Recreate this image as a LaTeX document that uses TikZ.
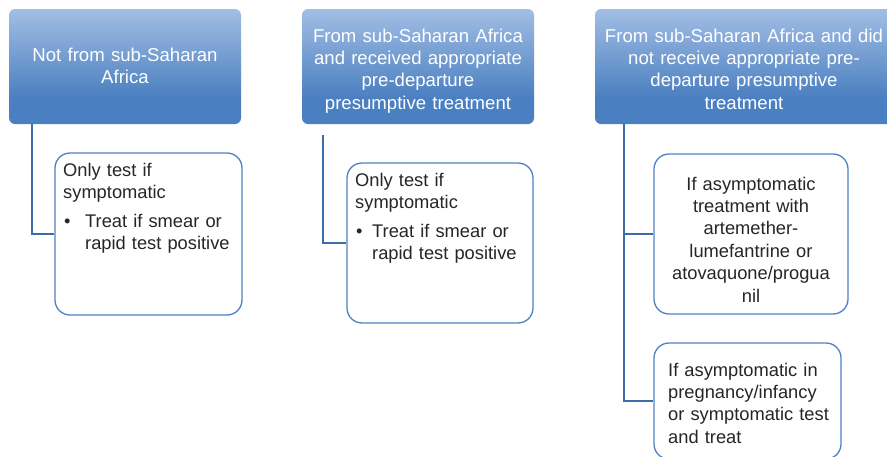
\documentclass[tikz,border=0pt]{standalone}
\usepackage{fontspec}
\setmainfont{Liberation Sans}
\definecolor{hdrTop}{HTML}{A2BEE4}
\definecolor{hdrBot}{HTML}{4A7FC1}
\definecolor{leafBorder}{HTML}{4F82C2}
\definecolor{connCol}{HTML}{3D6CAB}
\definecolor{txtDark}{HTML}{262626}
\pgfdeclareverticalshading{hdrshade}{100bp}{color(0bp)=(hdrBot); color(36bp)=(hdrBot); color(75bp)=(hdrTop); color(100bp)=(hdrTop)}
\begin{document}
\begin{tikzpicture}[x=1pt,y=-1pt,
  hdrbox/.style={shade, shading=hdrshade, draw=none, rounded corners=6pt, inner sep=0pt, minimum height=115pt},
  hdrtext/.style={text=white, font=\fontsize{18.6}{22.4}\selectfont, align=center, inner sep=0pt, anchor=base, text width=290pt},
  leafbox/.style={draw=leafBorder, line width=1.3pt, rounded corners=15pt, fill=white, inner sep=0pt},
  leaftext/.style={text=txtDark, font=\fontsize{18.3}{22.4}\selectfont, align=left, inner sep=0pt, anchor=base west, text width=185pt},
  leafctext/.style={text=txtDark, font=\fontsize{18.3}{22.4}\selectfont, align=center, inner sep=0pt, anchor=base, text width=190pt},
  conn/.style={draw=connCol, line width=1.4pt}]
\useasboundingbox (0,0) rectangle (887,456);
\clip (0,0) rectangle (887,456);

% header boxes
\node[hdrbox, minimum width=232pt] (h1) at (125,66.5) {};
\node[hdrbox, minimum width=232pt] (h2) at (418,66.5) {};
\node[hdrbox, minimum width=298pt] (h3) at (744,66.5) {};

% leaf boxes
\node[leafbox, minimum width=187pt, minimum height=162pt] (a) at (148.5,234) {};
\node[leafbox, minimum width=186pt, minimum height=160pt] (b) at (440,243) {};
\node[leafbox, minimum width=194pt, minimum height=160pt] (c) at (751,234) {};
\node[leafbox, minimum width=187pt, minimum height=116pt] (d) at (747.5,401) {};

% connectors
\draw[conn] ([xshift=23pt]h1.south west) |- (a.west);
\draw[conn] ([xshift=21pt,yshift=-11pt]h2.south west) |- (b.west);
\draw[conn] ([xshift=29pt]h3.south west) |- (c.west);
\draw[conn] ([xshift=29pt]h3.south west) |- (d.west);

% header texts
\node[hdrtext] (h1t) at (125,61) {Not from sub-Saharan\\Africa};
\node[hdrtext] (h2t) at (418,42) {From sub-Saharan Africa\\and received appropriate\\pre-departure\\presumptive treatment};
\node[hdrtext] (h3t) at (744,42) {From sub-Saharan Africa and did\\not receive appropriate pre-\\departure presumptive\\treatment};

% leaf texts
\node[leaftext] (at) at (63,176.5) {Only test if\\symptomatic};
\node[leaftext, text width=10pt] (ab) at (64,227) {\textbullet};
\node[leaftext, text width=160pt] (at2) at (85,227) {Treat if smear or\\rapid test positive};

\node[leaftext] (bt) at (355,186.5) {Only test if\\symptomatic};
\node[leaftext, text width=10pt] (bb) at (356,237) {\textbullet};
\node[leaftext, text width=160pt] (bt2) at (372,237) {Treat if smear or\\rapid test positive};

\node[leafctext] (ct) at (751,190) {If asymptomatic\\treatment with\\artemether-\\lumefantrine or\\atovaquone/progua\\nil};

\node[leaftext] (dt) at (668,376) {If asymptomatic in\\pregnancy/infancy\\or symptomatic test\\and treat};
\end{tikzpicture}
\end{document}
